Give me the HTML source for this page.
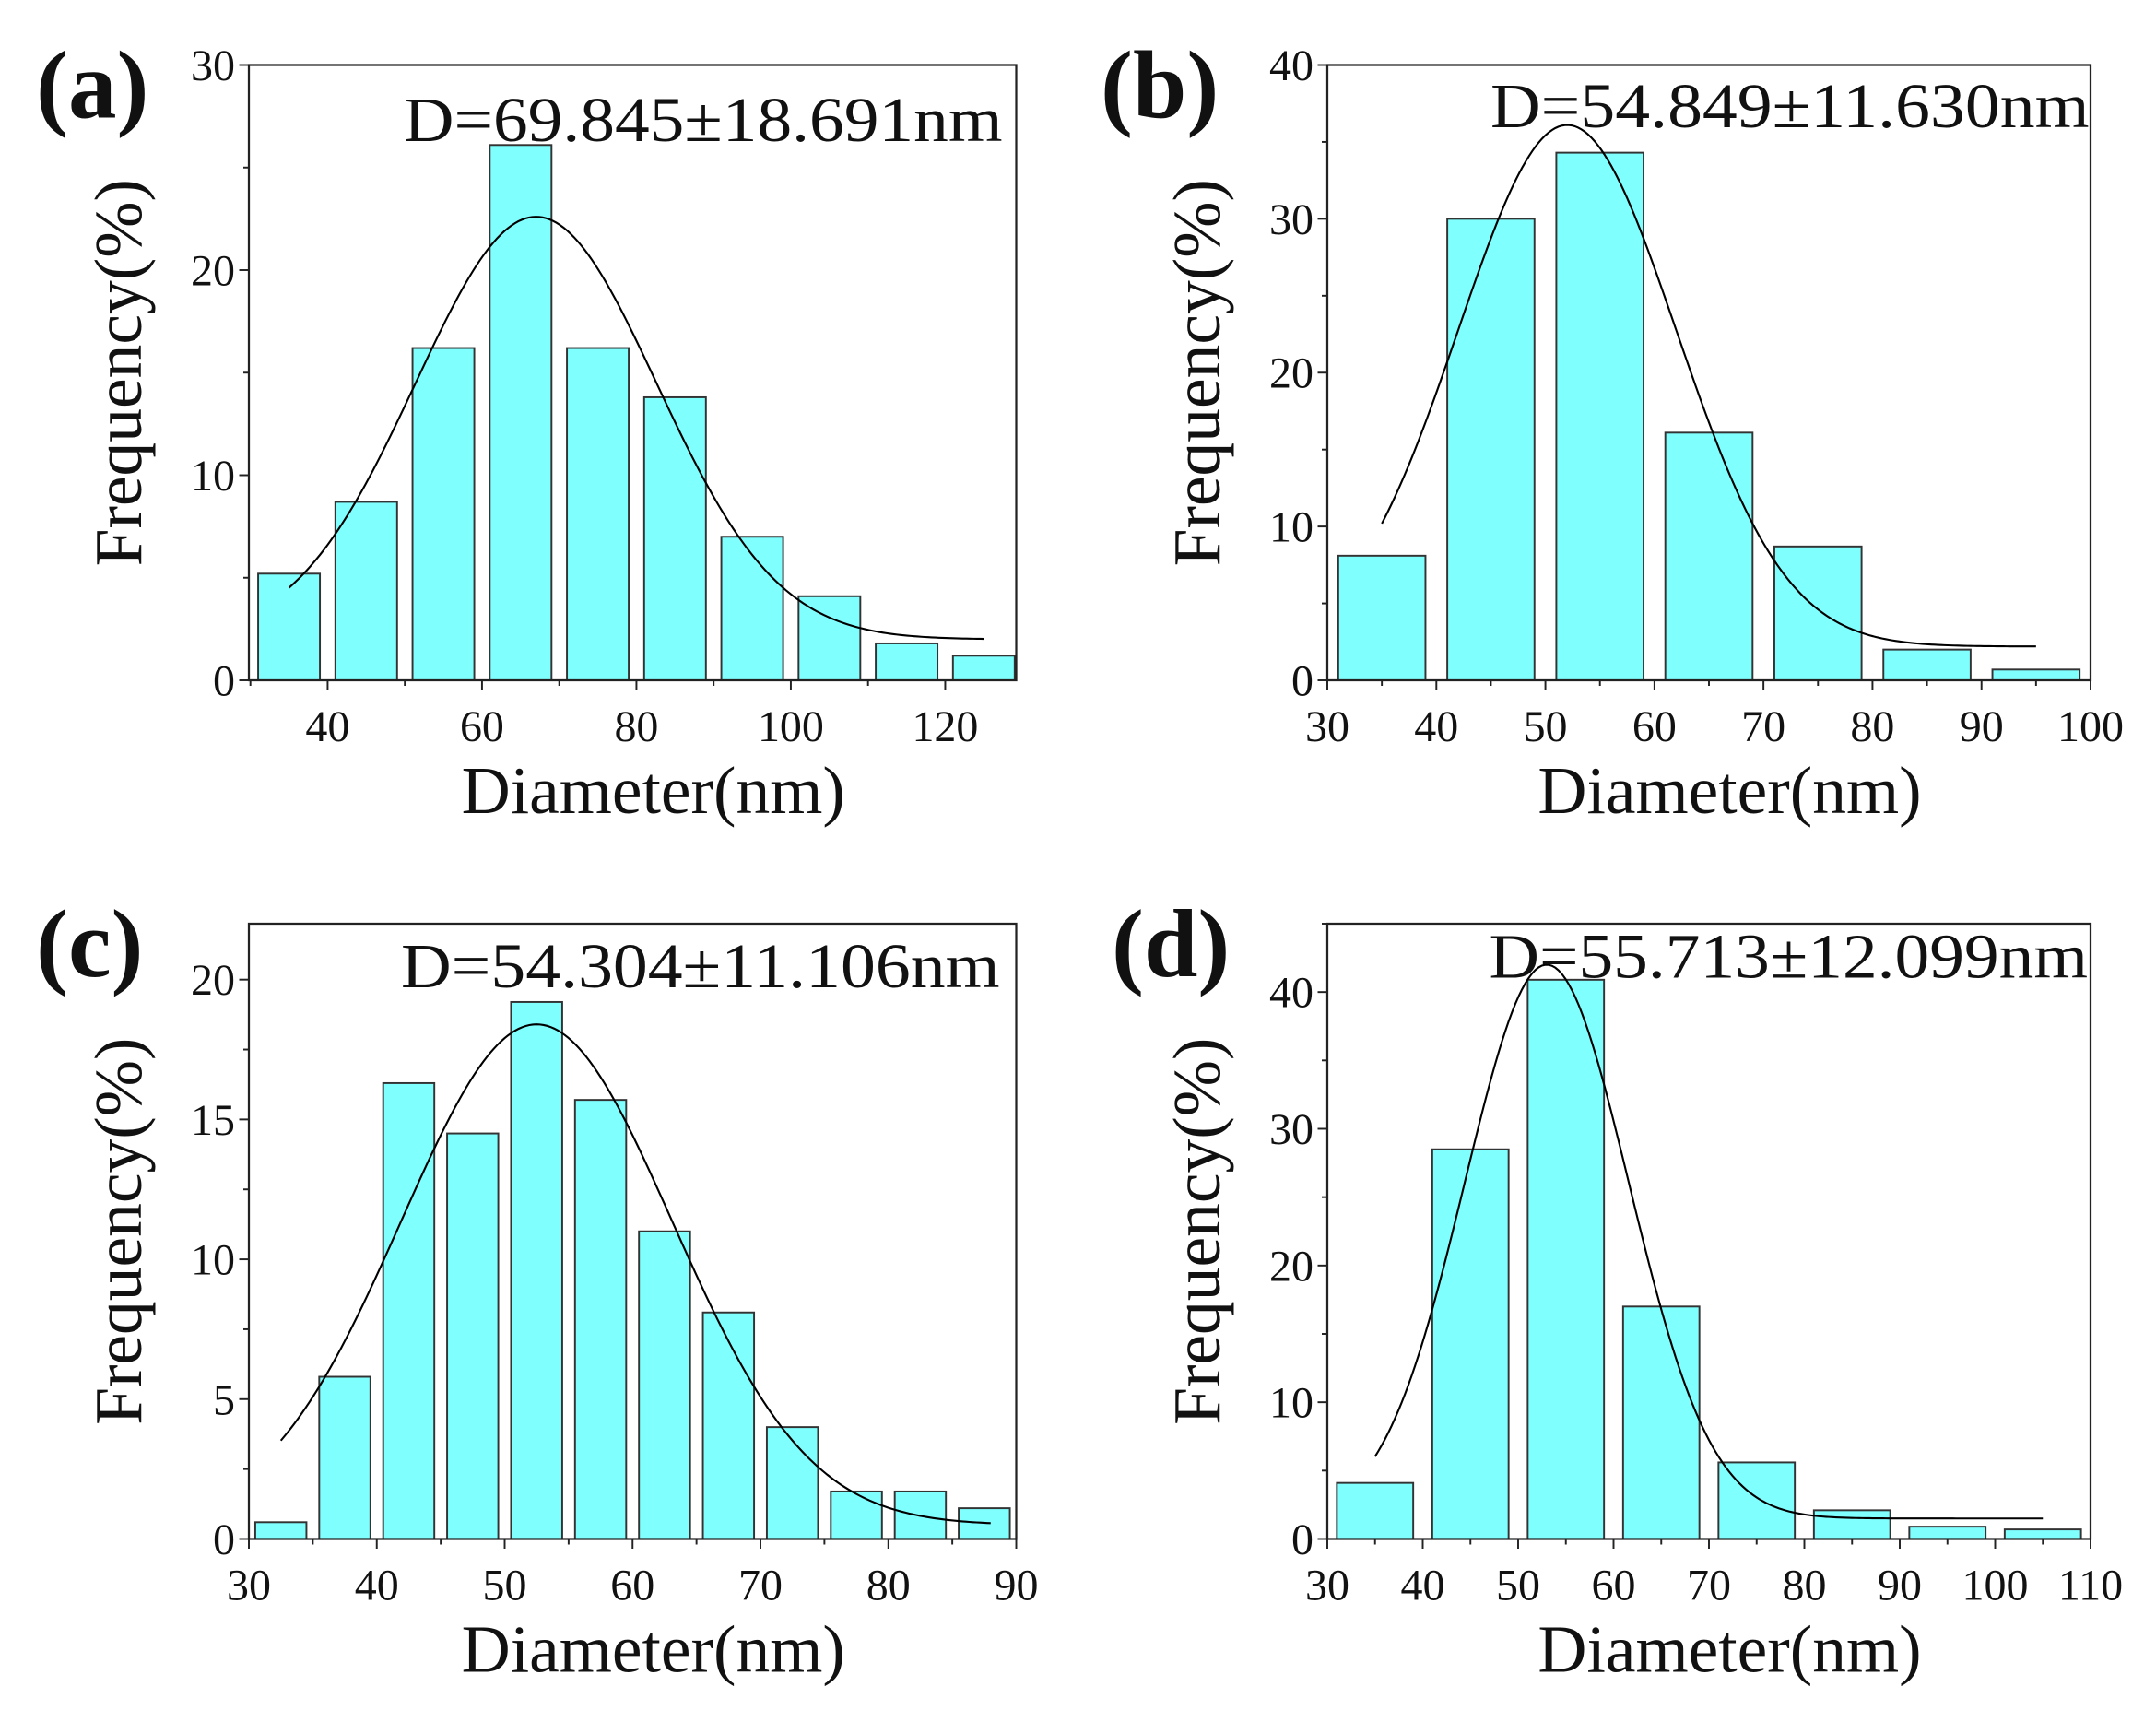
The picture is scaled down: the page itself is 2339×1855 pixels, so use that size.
<!DOCTYPE html>
<html><head><meta charset="utf-8"><style>html,body{margin:0;padding:0;background:#fff}svg{display:block}</style></head>
<body>
<svg id="fig" width="2339" height="1855" viewBox="0 0 1559.33 1236.67" xmlns="http://www.w3.org/2000/svg" font-family="'Liberation Serif', serif"></svg>
<script>
// Panel (a)
const aCenters = [35,45,55,65,75,85,95,105,115,125];
const aValues = [5.2,8.7,16.2,26.1,16.2,13.8,7.0,4.1,1.8,1.2];
const aFit = [2.0, 20.6, 67, 15.6]; // y0, A, xc, sigma
const aXTicks = [40,60,80,100,120];
const aYTicks = [0,10,20,30];
// Panel (b)
const bCenters = [35,45,55,65,75,85,95];
const bValues = [8.1,30.0,34.3,16.1,8.7,2.0,0.7];
const bFit = [2.2, 33.9, 52, 10.0];
const bXTicks = [30,40,50,60,70,80,90,100];
const bYTicks = [0,10,20,30,40];
// Panel (c)
const cCenters = [32.5,37.5,42.5,47.5,52.5,57.5,62.5,67.5,72.5,77.5,82.5,87.5];
const cValues = [0.6,5.8,16.3,14.5,19.2,15.7,11.0,8.1,4.0,1.7,1.7,1.1];
const cFit = [0.5, 17.9, 52.5, 10.6];
const cXTicks = [30,40,50,60,70,80,90];
const cYTicks = [0,5,10,15,20];
// Panel (d)
const dCenters = [35,45,55,65,75,85,95,105];
const dValues = [4.1,28.5,40.9,17.0,5.6,2.1,0.9,0.7];
const dFit = [1.5, 40.5, 53, 8.6];
const dXTicks = [30,40,50,60,70,80,90,100,110];
const dYTicks = [0,10,20,30,40];

const NS = "http://www.w3.org/2000/svg";
const svg = document.getElementById('fig');
function mk(tag, attrs, parent, txt){
  const e = document.createElementNS(NS, tag);
  for (const k in attrs) e.setAttribute(k, attrs[k]);
  if (txt !== undefined) e.textContent = txt;
  (parent||svg).appendChild(e);
  return e;
}

function panel(cfg){
  const g = mk('g', {});
  
  
  const X = v => cfg.x0 + (v - cfg.xmin) / (cfg.xmax - cfg.xmin) * (cfg.x1 - cfg.x0);
  const Y = v => cfg.y1 - (v - cfg.ymin) / (cfg.ymax - cfg.ymin) * (cfg.y1 - cfg.y0);
  cfg.centers.forEach((c, i) => {
    const r = mk('rect', {x: X(c - cfg.bw/2), y: Y(cfg.values[i]), width: X(c + cfg.bw/2) - X(c - cfg.bw/2), height: Y(0) - Y(cfg.values[i]), fill: '#80ffff', stroke: '#333', 'stroke-width': 1.3}, g);
    
    
  });
  const [y0, A, xc, s] = cfg.fit;
  let d = '';
  const n = 200;
  for (let i = 0; i <= n; i++) {
    const xv = cfg.cx0 + (cfg.cx1 - cfg.cx0) * i / n;
    const yv = y0 + A * Math.exp(-(xv - xc) * (xv - xc) / (2 * s * s));
    d += (i ? 'L' : 'M') + X(xv).toFixed(2) + ',' + Y(yv).toFixed(2);
  }
  const p = mk('path', {d: d, fill: 'none', stroke: '#000', 'stroke-width': 1.4}, g);
  
  
  const fr = mk('rect', {x: cfg.x0, y: cfg.y0, width: cfg.x1 - cfg.x0, height: cfg.y1 - cfg.y0, fill: 'none', stroke: '#222', 'stroke-width': 1.5}, g);
  
  
  const xt = mk('g', {}, g);
  
  
  for (let v = cfg.xmin + ((cfg.xminor - (cfg.xmin % cfg.xminor)) % cfg.xminor); v <= cfg.xmax + 1e-6; v += cfg.xminor) {
    const major = cfg.xticks.includes(v);
    mk('line', {x1: X(v), x2: X(v), y1: cfg.y1, y2: cfg.y1 + (major ? 7 : 4), stroke: '#222', 'stroke-width': 1.3}, xt);
  }
  cfg.xticks.forEach(v => {
    const t = mk('text', {x: X(v), y: cfg.y1 + 44, 'text-anchor': 'middle', 'font-size': 32, fill: '#111'}, xt, String(v));
    
    
  });
  const yt = mk('g', {}, g);
  
  
  for (let v = cfg.ymin; v <= cfg.ymax + 1e-6; v += cfg.yminor) {
    const major = cfg.yticks.includes(v);
    mk('line', {x1: cfg.x0, x2: cfg.x0 - (major ? 7 : 4), y1: Y(v), y2: Y(v), stroke: '#222', 'stroke-width': 1.3}, yt);
  }
  cfg.yticks.forEach(v => {
    const t = mk('text', {x: cfg.x0 - 10, y: Y(v) + 11, 'text-anchor': 'end', 'font-size': 32, fill: '#111'}, yt, String(v));
    
    
  });
  const xtitle = mk('text', {x: (cfg.x0 + cfg.x1) / 2 + 15, y: cfg.y1 + 96, 'text-anchor': 'middle', 'font-size': 49, fill: '#111'}, g, 'Diameter(nm)');
  
  
  const cy = (cfg.y0 + cfg.y1) / 2 + 0;
  const ytitle = mk('text', {x: 0, y: 0, transform: `translate(${cfg.x0 - 78},${cy}) rotate(-90)`, 'text-anchor': 'middle', 'font-size': 49, fill: '#111'}, g, 'Frequency(%)');
  
  
  const lab = mk('text', {x: cfg.lx, y: cfg.y0 + 38, 'font-size': 70, 'font-weight': 'bold', fill: '#111'}, g, '(' + cfg.id + ')');
  
  
  const ann = mk('text', {x: cfg.ax, y: cfg.ay, 'font-size': 46, fill: '#111', textLength: 433, lengthAdjust: 'spacingAndGlyphs'}, g, cfg.ann);
  
  
}

panel({id:'a', x0:180, x1:735, y0:47, y1:492, xmin:29.8, xmax:129.2, ymin:0, ymax:30, bw:8, centers:aCenters, values:aValues, fit:aFit, cx0:35, cx1:125, xticks:aXTicks, xminor:10, yticks:aYTicks, yminor:5, lx:26, ax:292, ay:102, ann:'D=69.845±18.691nm'});
panel({id:'b', x0:960, x1:1512, y0:47, y1:492, xmin:30, xmax:100, ymin:0, ymax:40, bw:8, centers:bCenters, values:bValues, fit:bFit, cx0:35, cx1:95, xticks:bXTicks, xminor:5, yticks:bYTicks, yminor:5, lx:796, ax:1078, ay:92, ann:'D=54.849±11.630nm'});
panel({id:'c', x0:180, x1:735, y0:668, y1:1113, xmin:30, xmax:90, ymin:0, ymax:22, bw:4, centers:cCenters, values:cValues, fit:cFit, cx0:32.5, cx1:88, xticks:cXTicks, xminor:5, yticks:cYTicks, yminor:2.5, lx:26, ax:290, ay:714, ann:'D=54.304±11.106nm'});
panel({id:'d', x0:960, x1:1512, y0:668, y1:1113, xmin:30, xmax:110, ymin:0, ymax:45, bw:8, centers:dCenters, values:dValues, fit:dFit, cx0:35, cx1:105, xticks:dXTicks, xminor:5, yticks:dYTicks, yminor:5, lx:804, ax:1077, ay:707, ann:'D=55.713±12.099nm'});
</script>
</body></html>
